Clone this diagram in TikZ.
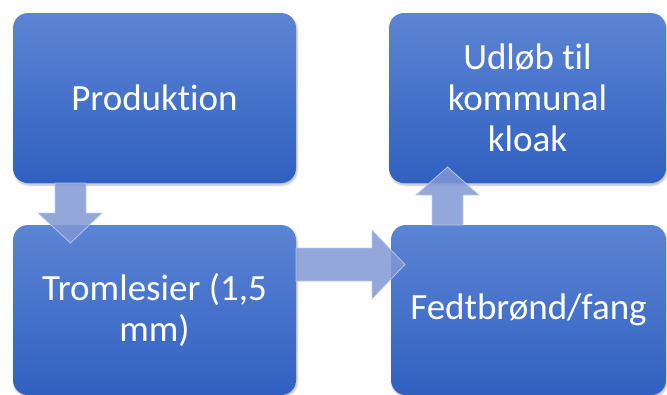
\documentclass[tikz,border=0pt]{standalone}
\usepackage{fontspec}
\setmainfont[Ligatures={NoCommon}]{Carlito}
\usetikzlibrary{shadows.blur}
\definecolor{boxtop}{RGB}{92,132,212}
\definecolor{boxbot}{RGB}{48,96,192}
\definecolor{arrfill}{RGB}{128,152,212}
\definecolor{arredge}{RGB}{190,204,234}
\begin{document}
\begin{tikzpicture}[x=1pt,y=-1pt,
  flowbox/.style={rectangle, rounded corners=15pt, top color=boxtop, bottom color=boxbot,
    draw=none, text=white, align=center, inner sep=0pt,
    font=\fontsize{37}{41}\selectfont,
    blur shadow={shadow blur steps=6, shadow xshift=1pt, shadow yshift=-2pt, shadow opacity=30}},
  blockarrow/.style={fill=arrfill, fill opacity=0.85, draw=arredge, draw opacity=0.9, line width=0.8pt, line join=miter}]
\useasboundingbox (0,0) rectangle (667,394);
\node[flowbox, minimum width=283pt, minimum height=170pt] (prod) at (154.5,98) {Produktion};
\node[flowbox, minimum width=283pt, minimum height=170pt] (trom) at (154.5,310) {Tromlesier (1,5\\mm)};
\node[flowbox, minimum width=277pt, minimum height=170pt] (udl) at (527.5,98) {Udløb til\\kommunal\\kloak};
\node[flowbox, minimum width=275pt, minimum height=170pt] (fedt) at (528.5,310) {Fedtbrønd/fang};
% down arrow prod -> trom
\path[blockarrow] (55,183) -- (86,183) -- (86,213) -- (102,213) -- (70.5,243) -- (38,213) -- (55,213) -- cycle;
% right arrow trom -> fedt
\path[blockarrow] (296,248) -- (372,248) -- (372,230) -- (405,264.5) -- (372,299) -- (372,281) -- (296,281) -- cycle;
% up arrow fedt -> udl
\path[blockarrow] (432,225) -- (432,195) -- (416,195) -- (447.5,167) -- (479,195) -- (463,195) -- (463,225) -- cycle;
\end{tikzpicture}
\end{document}
